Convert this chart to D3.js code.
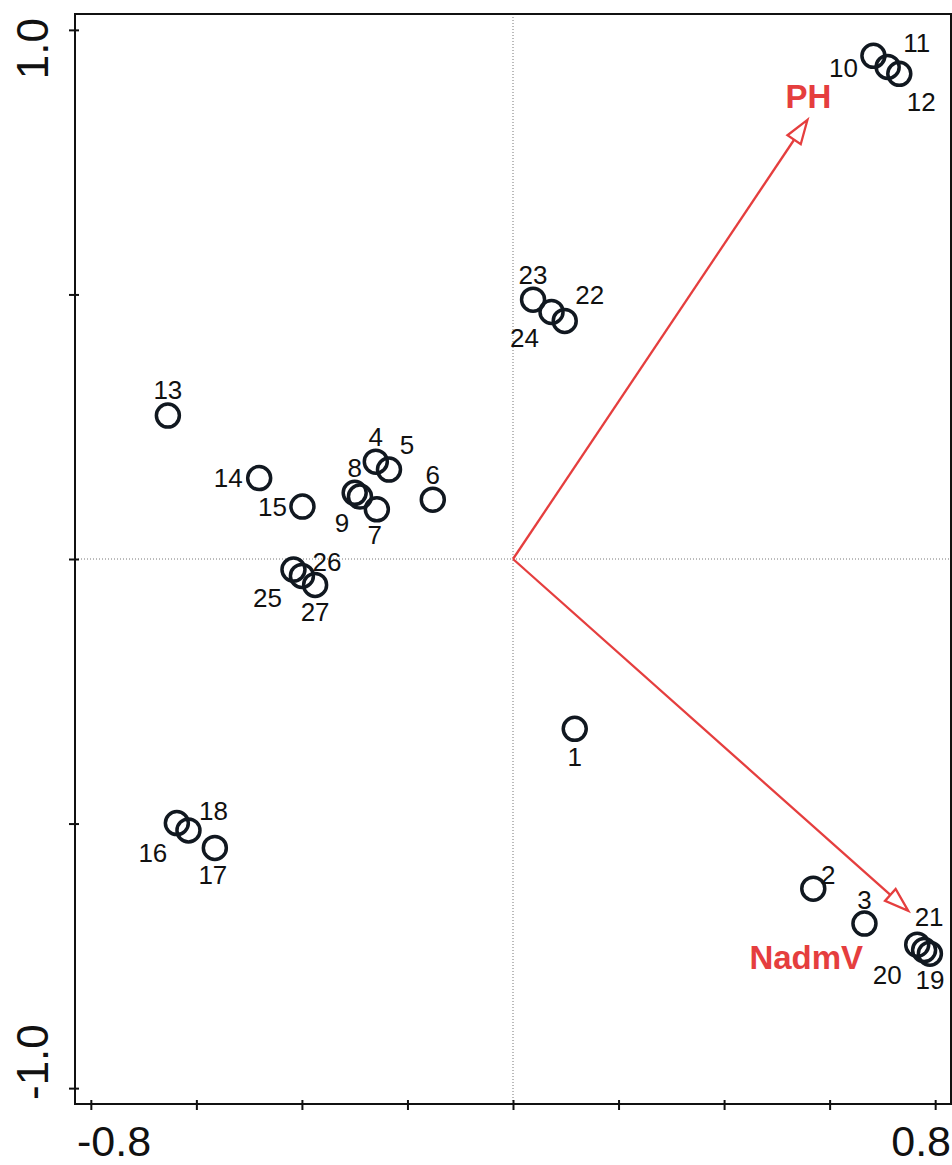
<!DOCTYPE html>
<html>
<head>
<meta charset="utf-8">
<script src="https://cdn.jsdelivr.net/npm/d3@7"></script>
<style>
  body { margin: 0; background: #fff; }
  svg { display: block; font-family: "Liberation Sans", Arial, sans-serif; }
</style>
</head>
<body>
<div id="chart"></div>
<script>
// site scores (ids + coordinates on the two ordination axes)
const siteIds = [1, 2, 3, 4, 5, 6, 7, 8, 9, 10, 11, 12, 13, 14, 15, 16, 17, 18, 19, 20, 21, 22, 23, 24, 25, 26, 27];
const siteX = [0.117, 0.569, 0.666, -0.260, -0.235, -0.152, -0.258, -0.300, -0.290, 0.683, 0.710, 0.732,
  -0.654, -0.481, -0.399, -0.637, -0.565, -0.615, 0.790, 0.766, 0.779, 0.098, 0.038, 0.073, -0.416, -0.400, -0.375];
const siteY = [-0.321, -0.623, -0.689, 0.184, 0.169, 0.112, 0.094, 0.125, 0.118, 0.951, 0.930, 0.917,
  0.271, 0.153, 0.099, -0.499, -0.546, -0.513, -0.746, -0.729, -0.739, 0.450, 0.490, 0.467, -0.020, -0.032, -0.049];

// environmental vectors
const envNames = ["PH", "NadmV"];
const envX = [0.558, 0.749];
const envY = [0.830, -0.665];

const xTicks = [-0.8, -0.6, -0.4, -0.2, 0, 0.2, 0.4, 0.6, 0.8];
const yTicks = [-1, -0.5, 0, 0.5, 1];
const xTickLabels = ["-0.8", "0.8"];
const yTickLabels = ["-1.0", "1.0"];

// label placement (pixel offsets from the point), layout only
const labelOffset = {
  1: [0, 28], 2: [15, -14], 3: [0, -24], 4: [0, -25], 5: [18, -25], 6: [0, -25], 7: [-2, 26],
  8: [0, -25], 9: [-18, 26], 10: [-30, 12], 11: [29, -24], 12: [22, 28], 13: [0, -26],
  14: [-31, 0], 15: [-30, 0], 16: [-24, 30], 17: [-2, 27], 18: [25, -19], 19: [0, 26],
  20: [-30, 30], 21: [5, -33], 22: [25, -26], 23: [0, -25], 24: [-27, 26], 25: [-26, 28],
  26: [25, -14], 27: [0, 27]
};

const width = 952, height = 1165;
const frame = { left: 75, right: 951, top: 14, bottom: 1104 };

const x = d3.scaleLinear().domain([-0.83, 0.83]).range([frame.left, frame.right]);
const y = d3.scaleLinear().domain([-1.03, 1.03]).range([frame.bottom, frame.top]);

const svg = d3.select("#chart")
  .append("svg")
    .attr("width", width)
    .attr("height", height);

// zero reference lines
svg.append("line")
  .attr("x1", x(0)).attr("x2", x(0))
  .attr("y1", frame.top).attr("y2", frame.bottom)
  .attr("stroke", "#777").attr("stroke-width", 1).attr("stroke-dasharray", "1,2");
svg.append("line")
  .attr("x1", frame.left).attr("x2", frame.right)
  .attr("y1", y(0)).attr("y2", y(0))
  .attr("stroke", "#777").attr("stroke-width", 1).attr("stroke-dasharray", "1,2");

// frame
svg.append("rect")
  .attr("x", frame.left).attr("y", frame.top)
  .attr("width", frame.right - frame.left).attr("height", frame.bottom - frame.top)
  .attr("fill", "none").attr("stroke", "#111").attr("stroke-width", 2);

// axes (ticks only, labels drawn separately)
const xAxis = svg.append("g")
  .attr("transform", `translate(0, ${frame.bottom})`)
  .call(d3.axisBottom(x).tickValues(xTicks).tickSize(6).tickFormat(""));
const yAxis = svg.append("g")
  .attr("transform", `translate(${frame.left}, 0)`)
  .call(d3.axisLeft(y).tickValues(yTicks).tickSize(6).tickFormat(""));
[xAxis, yAxis].forEach(g => {
  g.select(".domain").remove();
  g.selectAll(".tick line").attr("stroke", "#111").attr("stroke-width", 2);
});
xAxis.selectAll(".tick line").attr("y1", -4);
yAxis.selectAll(".tick line").attr("x1", 4);

svg.append("text")
  .text(xTickLabels[0])
  .attr("x", 77).attr("y", 1156)
  .attr("text-anchor", "start")
  .style("font-size", "43px").style("fill", "#111");
svg.append("text")
  .text(xTickLabels[1])
  .attr("x", 951).attr("y", 1156)
  .attr("text-anchor", "end")
  .style("font-size", "43px").style("fill", "#111");
svg.append("text")
  .text(yTickLabels[1])
  .attr("transform", `translate(48, 18) rotate(-90)`)
  .attr("text-anchor", "end")
  .style("font-size", "44px").style("fill", "#111");
svg.append("text")
  .text(yTickLabels[0])
  .attr("transform", `translate(48, 1100) rotate(-90)`)
  .attr("text-anchor", "start")
  .style("font-size", "44px").style("fill", "#111");

// environmental arrows
const red = "#e53e3e";
const envData = envNames.map((name, i) => ({ name, x: envX[i], y: envY[i] }));
const envLabelOffset = { PH: [1, -12], NadmV: [-102, 58] };

envData.forEach(d => {
  const x0 = x(0), y0 = y(0), x1 = x(d.x), y1 = y(d.y);
  const ang = Math.atan2(y1 - y0, x1 - x0);
  const headLen = 24, headHalf = 8;
  const bx = x1 - headLen * Math.cos(ang), by = y1 - headLen * Math.sin(ang);
  svg.append("line")
    .attr("x1", x0).attr("y1", y0).attr("x2", bx).attr("y2", by)
    .attr("stroke", red).attr("stroke-width", 2.3);
  const pts = [
    [x1, y1],
    [bx + headHalf * Math.sin(ang), by - headHalf * Math.cos(ang)],
    [bx - headHalf * Math.sin(ang), by + headHalf * Math.cos(ang)]
  ];
  svg.append("polygon")
    .attr("points", pts.map(p => p.join(",")).join(" "))
    .attr("fill", "#fff").attr("stroke", red).attr("stroke-width", 2.3);
  const off = envLabelOffset[d.name];
  svg.append("text")
    .text(d.name)
    .attr("x", x1 + off[0]).attr("y", y1 + off[1])
    .attr("text-anchor", "middle")
    .style("font-size", "33px").style("font-weight", 700)
    .style("fill", red);
});

// sites
const sites = siteIds.map((id, i) => ({ id, x: siteX[i], y: siteY[i] }));

svg.append("g")
  .selectAll("circle")
  .data(sites)
  .join("circle")
    .attr("cx", d => x(d.x))
    .attr("cy", d => y(d.y))
    .attr("r", 11.5)
    .attr("fill", "none")
    .attr("stroke", "#111820")
    .attr("stroke-width", 3.5);

svg.append("g")
  .selectAll("text")
  .data(sites)
  .join("text")
    .text(d => d.id)
    .attr("x", d => x(d.x) + labelOffset[d.id][0])
    .attr("y", d => y(d.y) + labelOffset[d.id][1])
    .attr("text-anchor", "middle")
    .attr("dominant-baseline", "central")
    .style("font-size", "26px")
    .style("fill", "#111");
</script>
</body>
</html>
